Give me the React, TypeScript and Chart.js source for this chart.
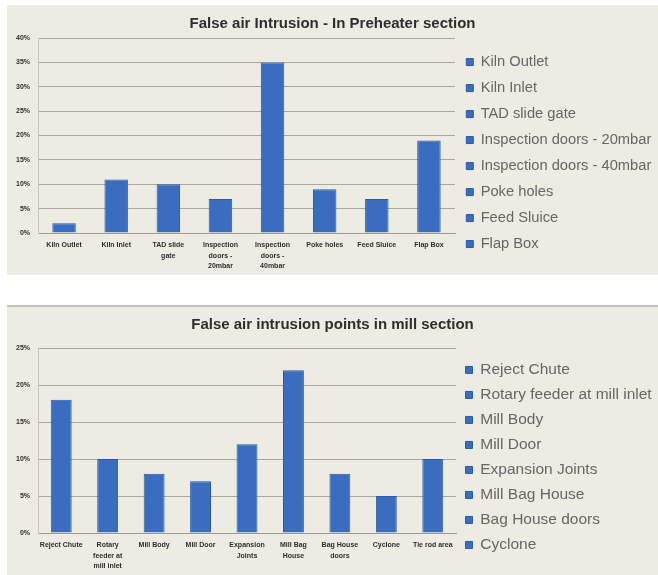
import React, { useEffect, useRef } from "react";
import { Chart, registerables } from "chart.js";

Chart.register(...registerables);

// ---------- Data ----------
const preheaterTitle = "False air Intrusion - In Preheater section";
const preheaterCategories = [
  "Kiln Outlet",
  "Kiln Inlet",
  "TAD slide gate",
  "Inspection doors - 20mbar",
  "Inspection doors - 40mbar",
  "Poke holes",
  "Feed Sluice",
  "Flap Box",
];
const preheaterTickLabels = [
  ["Kiln Outlet"],
  ["Kiln Inlet"],
  ["TAD slide", "gate"],
  ["Inspection", "doors -", "20mbar"],
  ["Inspection", "doors -", "40mbar"],
  ["Poke holes"],
  ["Feed Sluice"],
  ["Flap Box"],
];
const preheaterValues = [2, 11, 10, 7, 35, 9, 7, 19];
const preheaterMax = 40;

const millTitle = "False air intrusion points in mill section";
const millCategories = [
  "Reject Chute",
  "Rotary feeder at mill inlet",
  "Mill Body",
  "Mill Door",
  "Expansion Joints",
  "Mill Bag House",
  "Bag House doors",
  "Cyclone",
  "Tie rod area",
];
const millTickLabels = [
  ["Reject Chute"],
  ["Rotary", "feeder at", "mill inlet"],
  ["Mill Body"],
  ["Mill Door"],
  ["Expansion", "Joints"],
  ["Mill Bag", "House"],
  ["Bag House", "doors"],
  ["Cyclone"],
  ["Tie rod area"],
];
const millValues = [18, 10, 8, 7, 12, 22, 8, 5, 10];
const millMax = 25;
const millLegendShown = 8;

const tickStep = 5;

// ---------- Styles ----------
const FONT = "'Liberation Sans', Arial, sans-serif";
const PANEL_BG = "rgb(237,236,226)";
const BAR = "#3a6cbf";
const BAR_EDGE = "#2b5aa6";
const GRID = "#aaa89d";
const TEXT = "#2e2e2e";

type PanelProps = {
  left: number;
  top: number;
  width: number;
  height: number;
  title: string;
  categories: string[];
  tickLabels: string[][];
  values: number[];
  max: number;
  legendCount: number;
  legendFont: number;
  legendPadding: number;
  legendWidth: number;
  legendOffset: number;
  titlePadTop: number;
  titlePadBottom: number;
  xAxisHeight: number;
  border?: boolean;
};

function ChartPanel(p: PanelProps) {
  const ref = useRef<HTMLCanvasElement | null>(null);
  useEffect(() => {
    if (!ref.current) return;
    const chart = new Chart(ref.current, {
      type: "bar",
      data: {
        labels: p.tickLabels as any,
        datasets: [
          {
            label: p.title,
            data: p.values,
            backgroundColor: BAR,
            borderColor: BAR_EDGE,
            borderWidth: { left: 1, right: 1, top: 1, bottom: 0 } as any,
            categoryPercentage: 1,
            barPercentage: 0.45,
          },
        ],
      },
      options: {
        animation: false,
        responsive: false,
        maintainAspectRatio: false,
        layout: { padding: { left: 0, right: 0, top: 0, bottom: 0 } },
        plugins: {
          title: {
            display: true,
            text: p.title,
            color: TEXT,
            font: { family: FONT, size: 15, weight: "bold", lineHeight: 1.2 },
            padding: { top: p.titlePadTop, bottom: p.titlePadBottom },
          },
          legend: {
            display: true,
            position: "right",
            align: "start",
            fullSize: true,
            maxWidth: p.legendWidth,
            title: {
              display: true,
              text: "",
              font: { size: 1, lineHeight: 1 },
              padding: { top: p.legendOffset, bottom: 0 },
            },
            labels: {
              color: "#333333",
              font: { family: FONT, size: p.legendFont },
              boxWidth: 7,
              boxHeight: 7,
              padding: p.legendPadding,
              generateLabels: () =>
                p.categories.slice(0, p.legendCount).map((c, i) => ({
                  text: c,
                  fillStyle: BAR,
                  strokeStyle: BAR_EDGE,
                  lineWidth: 1,
                  hidden: false,
                  index: i,
                  datasetIndex: 0,
                })) as any,
            },
          },
          tooltip: { enabled: false },
        },
        scales: {
          x: {
            grid: { display: false, drawTicks: false },
            border: { display: true, color: "#9c9a90", width: 1 },
            ticks: {
              color: TEXT,
              font: { family: FONT, size: 7, weight: "bold", lineHeight: 1.5 },
              maxRotation: 0,
              autoSkip: false,
              padding: 7,
            },
            afterFit: (scale: any) => {
              scale.height = p.xAxisHeight;
            },
          },
          y: {
            min: 0,
            max: p.max,
            grid: { color: GRID, lineWidth: 1, drawTicks: false },
            border: { display: true, color: "#c9c7bc", width: 1 },
            ticks: {
              stepSize: tickStep,
              color: TEXT,
              font: { family: FONT, size: 7, weight: "bold" },
              padding: 8,
              callback: (v: any) => v + "%",
            },
            afterFit: (scale: any) => {
              scale.width = 31;
            },
          },
        },
      },
    });
    return () => chart.destroy();
  }, []);

  return (
    <div
      style={{
        position: "absolute",
        left: p.left,
        top: p.top,
        width: p.width,
        height: p.height,
        background: PANEL_BG,
        borderTop: p.border ? "2px solid #c2c1b9" : "none",
        boxSizing: "border-box",
      }}
    >
      <canvas
        ref={ref}
        width={p.width}
        height={p.border ? p.height - 2 : p.height}
        style={{ display: "block" }}
      />
    </div>
  );
}

export default function App() {
  return (
    <div
      style={{
        position: "fixed",
        left: 0,
        top: 0,
        width: 658,
        height: 575,
        background: "#ffffff",
        overflow: "hidden",
      }}
    >
      <ChartPanel
        left={7}
        top={5}
        width={651}
        height={270}
        title={preheaterTitle}
        categories={preheaterCategories}
        tickLabels={preheaterTickLabels}
        values={preheaterValues}
        max={preheaterMax}
        legendCount={preheaterCategories.length}
        legendFont={14.7}
        legendPadding={11.3}
        legendWidth={203}
        legendOffset={37.4}
        titlePadTop={10}
        titlePadBottom={5}
        xAxisHeight={42}
      />
      <ChartPanel
        left={7}
        top={305}
        width={651}
        height={270}
        title={millTitle}
        categories={millCategories}
        tickLabels={millTickLabels}
        values={millValues}
        max={millMax}
        legendCount={millLegendShown}
        legendFont={15.5}
        legendPadding={9.5}
        legendWidth={202}
        legendOffset={44.7}
        titlePadTop={9}
        titlePadBottom={14}
        xAxisHeight={42}
        border
      />
    </div>
  );
}
